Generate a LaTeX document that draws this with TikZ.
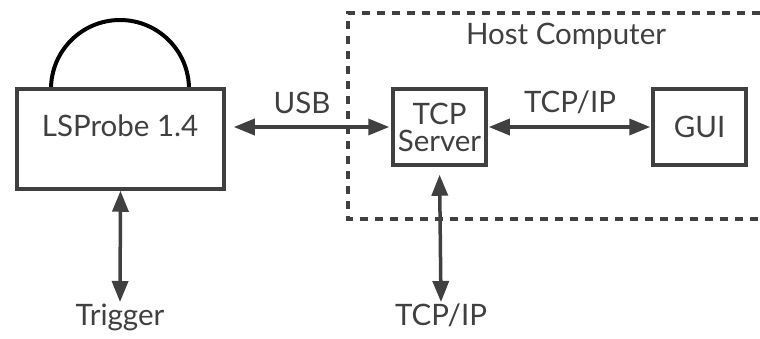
\documentclass[tikz,border=0pt]{standalone}
\usepackage{fontspec}
\setmainfont{Lato}
\usetikzlibrary{arrows.meta}
\definecolor{ink}{RGB}{64,64,64}
\tikzset{
  box/.style={draw=ink, line width=3.5pt, rectangle, inner sep=0pt, text=ink},
  txt/.style={text=ink, inner sep=1pt, font=\fontsize{29.5}{31}\selectfont},
  conn/.style={draw=ink, line width=3.5pt, {Triangle[length=21pt,width=16pt]}-{Triangle[length=21pt,width=16pt]}},
  hostbox/.style={draw=ink, line width=3.5pt, dash pattern=on 8pt off 7pt},
}
\begin{document}
\begin{tikzpicture}[x=1pt,y=-1pt]
\useasboundingbox (0,0) rectangle (760,338);
\clip (0,0) rectangle (760,338);
\fill[white] (0,0) rectangle (760,338);
% host computer region
\draw[hostbox] (790,13) -- (348,13) -- (348,219) -- (790,219);
\node[txt] (host) at (566,36) {Host Computer};
% probe
\draw[black, line width=4pt] (51,89) arc[start angle=180, end angle=360, radius=69];
\node[box, minimum width=207pt, minimum height=100pt] (lsp) at (120.5,139) {};
\node[txt] (lsptxt) at (120,126) {LSProbe 1.4};
% host boxes
\node[box, minimum width=93pt, minimum height=76pt, txt, align=center, font=\fontsize{29.5}{27}\selectfont] (tcp) at (439.5,127) {TCP\\Server};
\node[box, minimum width=93pt, minimum height=76pt, txt] (gui) at (699.5,127) {GUI};
% outside labels
\node[txt, anchor=north] (trig) at (120,303) {Trigger};
\node[txt, anchor=north] (ext) at (441,303) {TCP/IP};
\node[txt] (usb) at (302,103) {USB};
\node[txt] (ip) at (570,102) {TCP/IP};
% connectors
\draw[conn, shorten <=8pt, shorten >=2pt] (tcp.west -| lsp.east) -- (tcp.west);
\draw[conn, shorten <=1pt, shorten >=1pt] (tcp.east) -- (gui.west);
\draw[conn, shorten >=1pt] (lsp.south) -- (trig.north);
\draw[conn, shorten <=8pt, shorten >=1pt] (tcp.south) -- (ext.north);
\end{tikzpicture}
\end{document}
